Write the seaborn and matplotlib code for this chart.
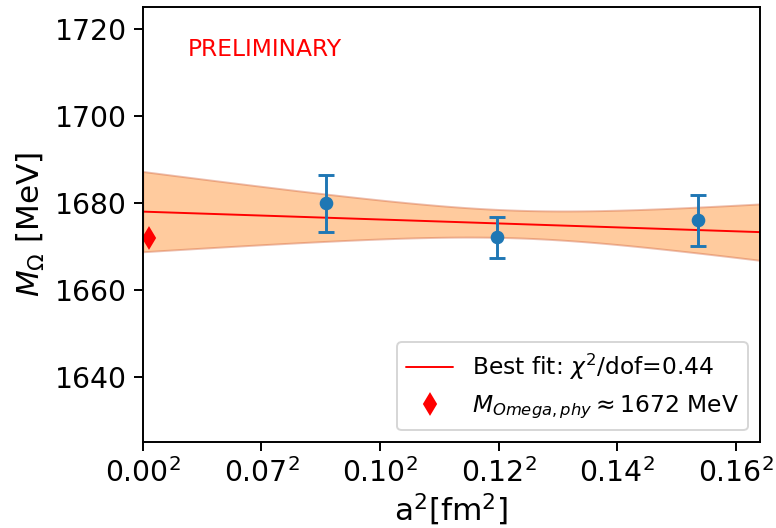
import numpy as np
import matplotlib
matplotlib.use('Agg')
import matplotlib.pyplot as plt
import seaborn as sns

# lattice data (a^2 in fm^2, mass in MeV)
a2 = [0.00771, 0.01493, 0.02339]
mass = [1679.9, 1672.1, 1676.0]
mass_err = [6.5, 4.7, 5.8]

# physical point
phys_a2 = [0.00028]
phys_mass = [1672.0]

xtick_vals = [0.0, 0.005, 0.010, 0.015, 0.020, 0.025]
xtick_labels = ['0.00$^2$', '0.07$^2$', '0.10$^2$', '0.12$^2$', '0.14$^2$', '0.16$^2$']
ytick_vals = [1640, 1660, 1680, 1700, 1720]

sns.set_theme(style='ticks', palette='tab10')
plt.rcParams['font.family'] = ['DejaVu Sans']
plt.rcParams['axes.edgecolor'] = 'black'
plt.rcParams['xtick.color'] = 'black'
plt.rcParams['ytick.color'] = 'black'
plt.rcParams['text.color'] = 'black'
plt.rcParams['axes.labelcolor'] = 'black'

fig, ax = plt.subplots(figsize=(776 / 140, 528 / 140), dpi=140)
fig.subplots_adjust(left=0.184, right=0.979, top=0.986, bottom=0.163)

# weighted linear fit in a^2
x = np.array(a2)
y = np.array(mass)
e = np.array(mass_err)
coef, cov = np.polyfit(x, y, 1, w=1 / e, cov='unscaled')
xx = np.linspace(0, 0.026, 200)
yy = coef[0] * xx + coef[1]
var = cov[0, 0] * xx**2 + 2 * cov[0, 1] * xx + cov[1, 1]
sig = np.sqrt(var)

ax.fill_between(xx, yy - sig, yy + sig, facecolor='#ff7f0e', alpha=0.4,
                edgecolor='#d0603a', linewidth=1.0)
sns.lineplot(x=xx, y=yy, color='red', linewidth=1.0, ax=ax,
             label=r'Best fit: $\chi^2$/dof=0.44')
ax.errorbar(a2, mass, yerr=mass_err, fmt='o', color='#1f77b4', markersize=6,
            capsize=4, elinewidth=1.5, capthick=1.5)
ax.plot(phys_a2, phys_mass, 'd', color='red', markersize=7.5, linestyle='none',
        label=r'$M_{Omega,phy} \approx 1672$ MeV')

ax.text(0.073, 0.902, 'PRELIMINARY', color='red', fontsize=12,
        transform=ax.transAxes, va='center', ha='left')

ax.set_xlim(0, 0.026)
ax.set_ylim(1625, 1725)
ax.set_xticks(xtick_vals)
ax.set_xticklabels(xtick_labels)
ax.set_yticks(ytick_vals)
ax.tick_params(axis='both', labelsize=14.5, length=4.8, width=1.0, direction='out')
for sp in ax.spines.values():
    sp.set_linewidth(1.0)
    sp.set_visible(True)

ax.set_xlabel('a$^2$[fm$^2$]', fontsize=16, labelpad=2)
ax.set_ylabel(r'$M_{\Omega}$ [MeV]', fontsize=16)

ax.legend(loc='lower right', fontsize=12, frameon=True)

fig.savefig('out.png', dpi=140)
